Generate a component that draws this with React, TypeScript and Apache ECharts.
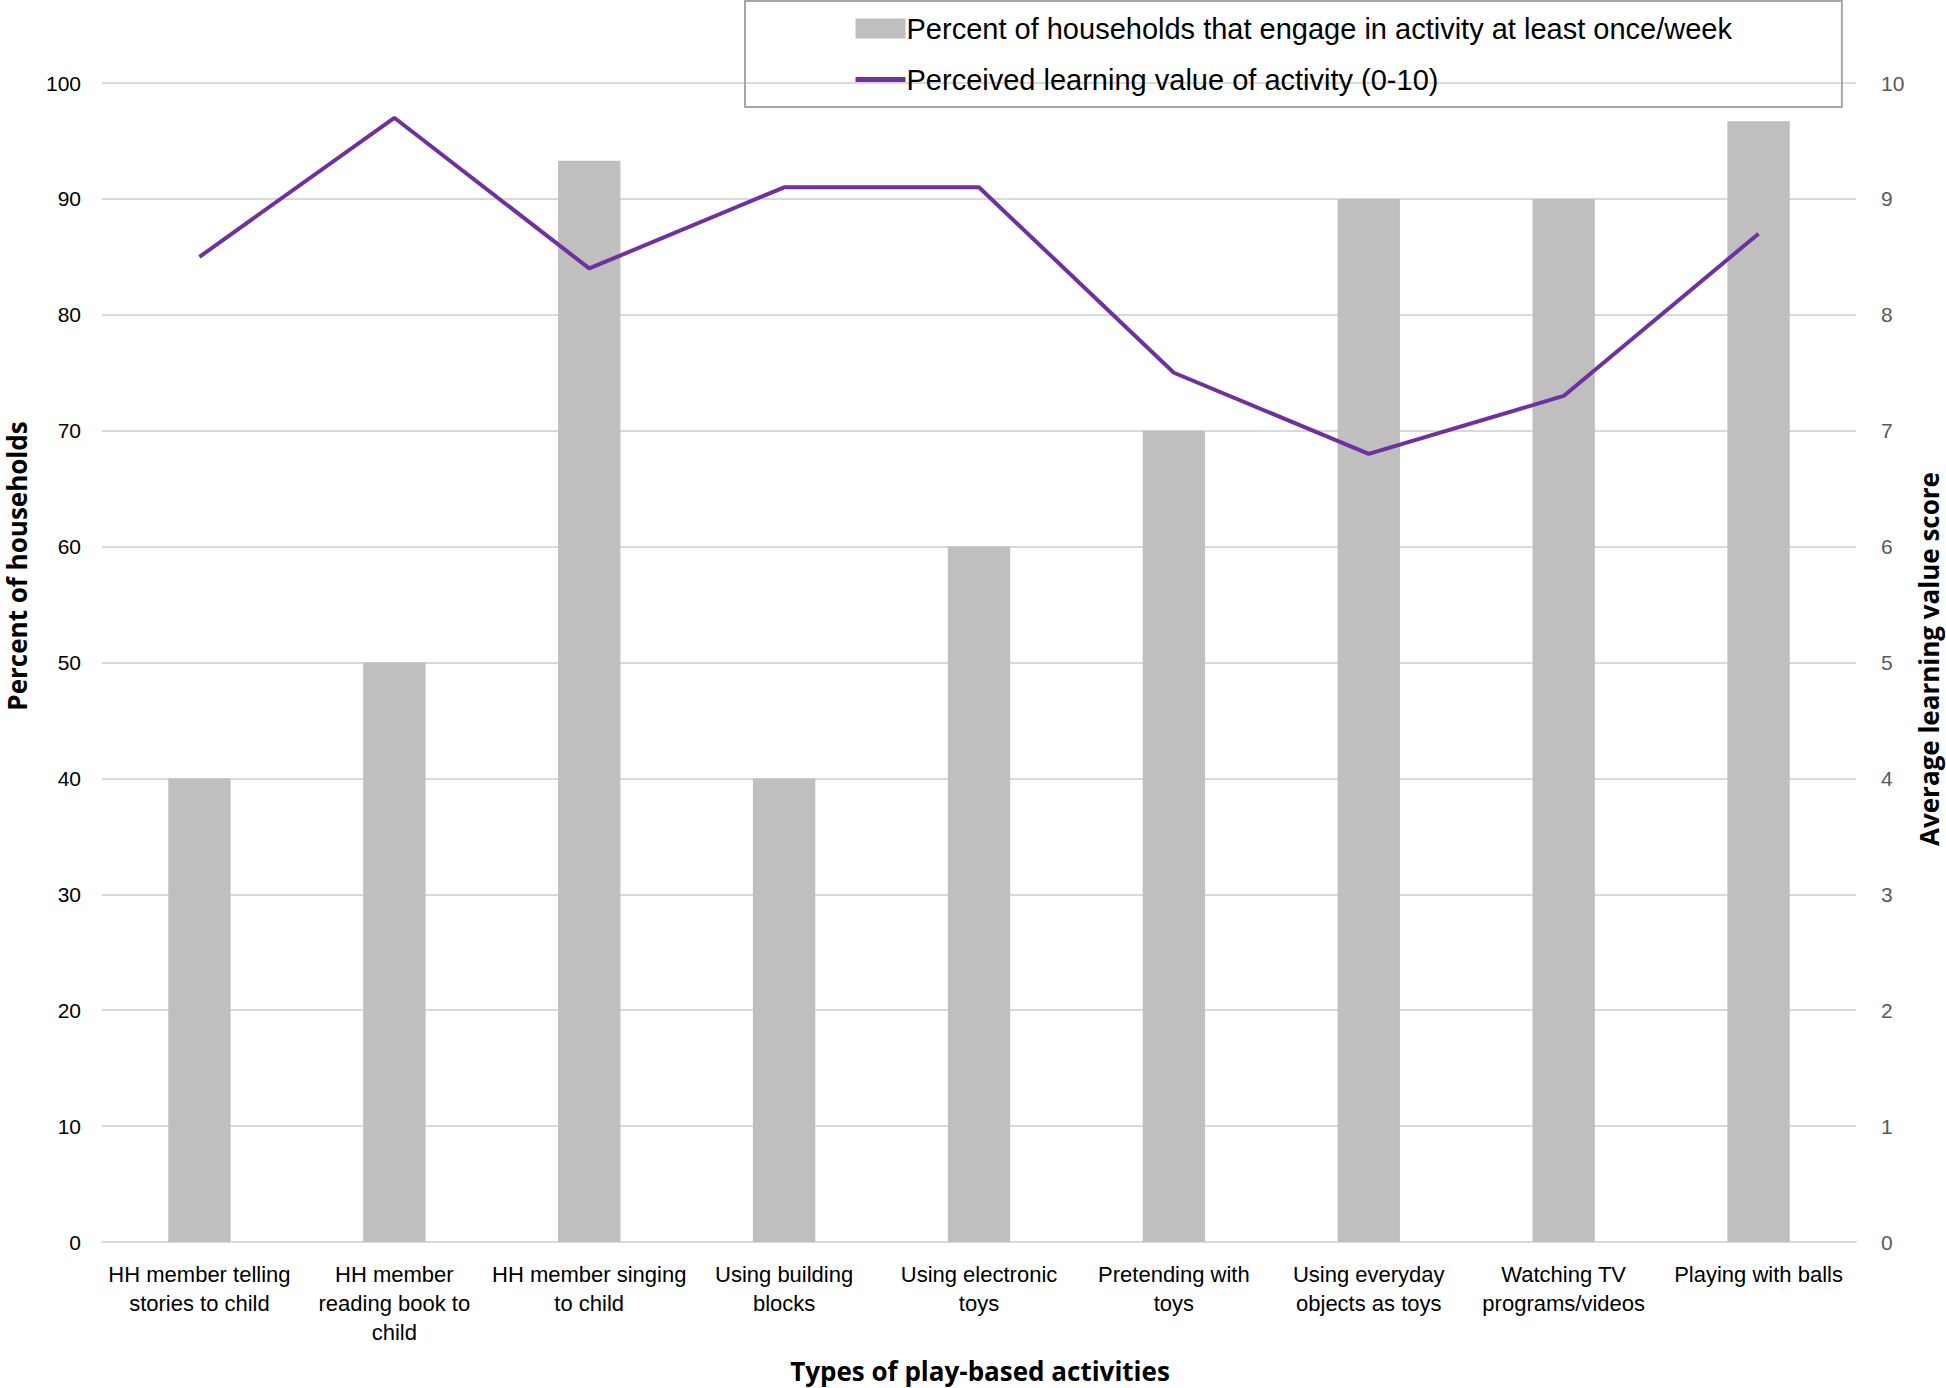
import React, { useEffect, useRef } from "react";
import * as echarts from "echarts";

const categories = [
  "HH member telling\nstories to child",
  "HH member\nreading book to\nchild",
  "HH member singing\nto child",
  "Using building\nblocks",
  "Using electronic\ntoys",
  "Pretending with\ntoys",
  "Using everyday\nobjects as toys",
  "Watching TV\nprograms/videos",
  "Playing with balls",
];
const percentHouseholds = [40, 50, 93.3, 40, 60, 70, 90, 90, 96.7];
const learningValue = [8.5, 9.7, 8.4, 9.1, 9.1, 7.5, 6.8, 7.3, 8.7];
const barName = "Percent of households that engage in activity at least once/week";
const lineName = "Perceived learning value of activity (0-10)";

const FONT = "'Liberation Sans Narrow', 'Liberation Sans', sans-serif";
const BOLD = "'Open Sans', 'Liberation Sans', sans-serif";

export default function App() {
  const ref = useRef<HTMLDivElement>(null);
  useEffect(() => {
    document.body.style.margin = "0";
    const chart = echarts.init(ref.current!, null, { renderer: "svg" });
    chart.setOption({
      animation: false,
      backgroundColor: "#ffffff",
      grid: { left: 102, right: 90, top: 83, bottom: 146, containLabel: false },
      legend: {
        orient: "vertical",
        left: 745,
        top: 1,
        itemWidth: 50,
        itemHeight: 20,
        itemGap: 22,
        padding: [13, 110, 13, 108],
        borderColor: "#A6A6A6",
        borderWidth: 2,
        textStyle: { fontFamily: FONT, fontSize: 29, color: "#000", padding: [0, 0, 0, -4] },
        data: [
          { name: barName, icon: "rect" },
          {
            name: lineName,
            itemStyle: { opacity: 0 },
            lineStyle: { width: 5, color: "#7030A0" },
          },
        ],
      },
      xAxis: {
        type: "category",
        data: categories,
        axisTick: { show: false },
        axisLine: { lineStyle: { color: "#D9D9D9", width: 2 } },
        axisLabel: {
          interval: 0,
          margin: 18,
          fontFamily: FONT,
          fontSize: 22,
          lineHeight: 29,
          color: "#000",
        },
      },
      yAxis: [
        {
          type: "value",
          min: 0,
          max: 100,
          interval: 10,
          axisLine: { show: false },
          axisTick: { show: false },
          splitLine: { lineStyle: { color: "#D9D9D9", width: 2 } },
          axisLabel: { fontFamily: FONT, fontSize: 21, color: "#000", margin: 21 },
        },
        {
          type: "value",
          min: 0,
          max: 10,
          interval: 1,
          axisLine: { show: false },
          axisTick: { show: false },
          splitLine: { show: false },
          axisLabel: { fontFamily: FONT, fontSize: 21, color: "#595959", margin: 25 },
        },
      ],
      series: [
        {
          name: barName,
          type: "bar",
          data: percentHouseholds,
          barWidth: "32%",
          itemStyle: { color: "#BFBFBF" },
        },
        {
          name: lineName,
          type: "line",
          yAxisIndex: 1,
          data: learningValue,
          symbol: "none",
          showSymbol: false,
          lineStyle: { color: "#7030A0", width: 4 },
          itemStyle: { color: "#7030A0" },
        },
      ],
      graphic: [
        {
          type: "text",
          x: 17,
          y: 566,
          rotation: Math.PI / 2,
          style: {
            text: "Percent of households",
            fontFamily: BOLD,
            fontWeight: "bold",
            fontSize: 26,
            fill: "#000",
            align: "center",
            verticalAlign: "middle",
          },
        },
        {
          type: "text",
          x: 1929,
          y: 659,
          rotation: Math.PI / 2,
          style: {
            text: "Average learning value score",
            fontFamily: BOLD,
            fontWeight: "bold",
            fontSize: 26,
            fill: "#000",
            align: "center",
            verticalAlign: "middle",
          },
        },
        {
          type: "text",
          x: 980,
          y: 1371,
          style: {
            text: "Types of play-based activities",
            fontFamily: BOLD,
            fontWeight: "bold",
            fontSize: 26,
            fill: "#000",
            align: "center",
            verticalAlign: "middle",
          },
        },
      ],
    });
    return () => chart.dispose();
  }, []);
  return <div ref={ref} style={{ width: 1946, height: 1388 }} />;
}
